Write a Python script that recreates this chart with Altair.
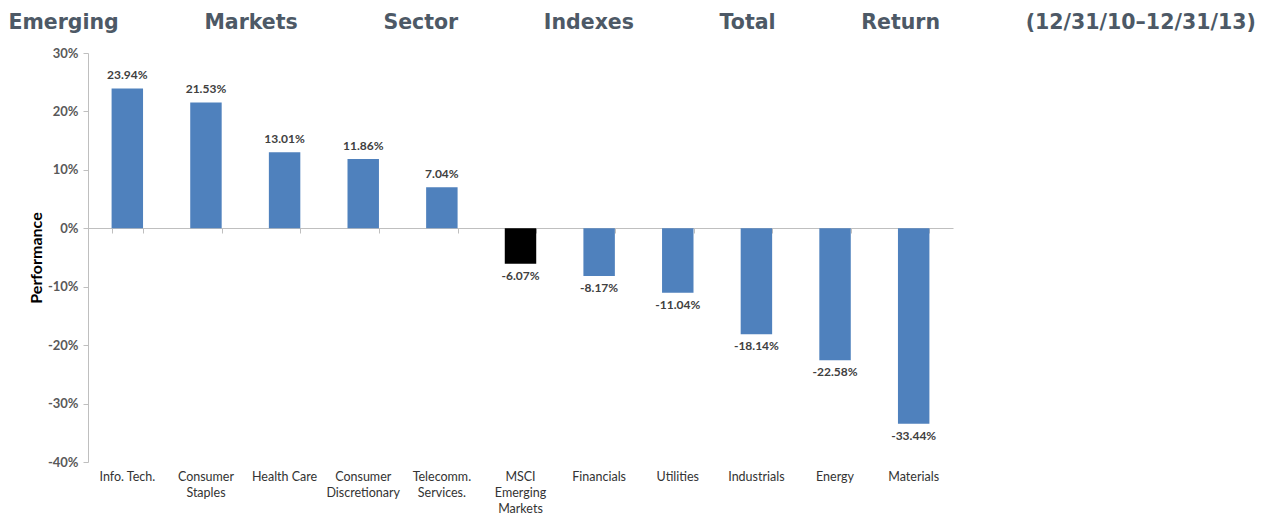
import altair as alt
import pandas as pd

categories = ["Info. Tech.", "Consumer|Staples", "Health Care", "Consumer|Discretionary",
              "Telecomm.|Services.", "MSCI|Emerging|Markets", "Financials", "Utilities",
              "Industrials", "Energy", "Materials"]
values = [23.94, 21.53, 13.01, 11.86, 7.04, -6.07, -8.17, -11.04, -18.14, -22.58, -33.44]
kinds = ["sector"] * 5 + ["index"] + ["sector"] * 5
title_words = ["Emerging", "Markets", "Sector", "Indexes", "Total", "Return", "(12/31/10–12/31/13)"]

df = pd.DataFrame({
    "cat": categories,
    "val": [v / 100 for v in values],
    "kind": kinds,
    "lbl": [f"{v:.2f}%" for v in values],
})

gap = "\u00a0" * 12
title_text = gap.join(title_words)

xsc = alt.Scale(paddingInner=0.6, paddingOuter=0.3)
ysc = alt.Scale(domain=[-0.4, 0.3], nice=False, zero=False)

base = alt.Chart(df)

bars = base.mark_bar().encode(
    x=alt.X("cat:N", sort=None, scale=xsc,
            axis=alt.Axis(orient="bottom", title=None, labelAngle=0, domain=False, ticks=False,
                          labelExpr="split(datum.label, '|')", labelFont="Lato",
                          labelFontSize=12.5, labelColor="#333333", labelPadding=8,
                          labelLineHeight=16, labelBaseline="top")),
    y=alt.Y("val:Q", scale=ysc,
            axis=alt.Axis(title="Performance", format=".0%", values=[-0.4, -0.3, -0.2, -0.1, 0, 0.1, 0.2, 0.3],
                          labelExpr="replace(datum.label, '\u2212', '-')",
                          grid=False, domainColor="#bfbfbf", tickColor="#bfbfbf", tickSize=5,
                          labelFont="Lato", labelFontSize=13, labelFontWeight="bold",
                          labelColor="#595959", labelPadding=5,
                          titleFont="Lato", titleFontSize=16, titleFontWeight="bold",
                          titleColor="#000000", titlePadding=3)),
    color=alt.Color("kind:N", scale=alt.Scale(domain=["sector", "index"], range=["#4f81bd", "#000000"]),
                    legend=None),
)

zero_axis = base.mark_bar(opacity=0).encode(
    x=alt.X("cat:N", sort=None, scale=xsc,
            axis=alt.Axis(orient="bottom", title=None, labels=False, offset=-234,
                          domainColor="#bfbfbf", tickColor="#bfbfbf", tickSize=5,
                          tickBand="extent")),
    y=alt.Y("val:Q", scale=ysc),
)

pos_text = base.transform_filter("datum.val >= 0").mark_text(
    baseline="bottom", dy=-6, font="Lato", fontSize=12, fontWeight="bold", color="#404040"
).encode(x=alt.X("cat:N", sort=None, axis=None), y=alt.Y("val:Q"), text="lbl:N")

neg_text = base.transform_filter("datum.val < 0").mark_text(
    baseline="top", dy=7, font="Lato", fontSize=12, fontWeight="bold", color="#404040"
).encode(x=alt.X("cat:N", sort=None, axis=None), y=alt.Y("val:Q"), text="lbl:N")

chart = alt.layer(bars, zero_axis, pos_text, neg_text).resolve_axis(x="independent").properties(
    width=865, height=409,
    padding={"left": 0, "top": 4, "right": 0, "bottom": 0},
    title=alt.TitleParams(title_text, anchor="start", frame="bounds", dx=-20,
                          font="DejaVu Sans", fontSize=20.5, fontWeight="bold", color="#4d5966",
                          offset=14),
).configure_view(stroke=None)

chart.save("out.html", embed_options={"renderer": "svg", "actions": False})
